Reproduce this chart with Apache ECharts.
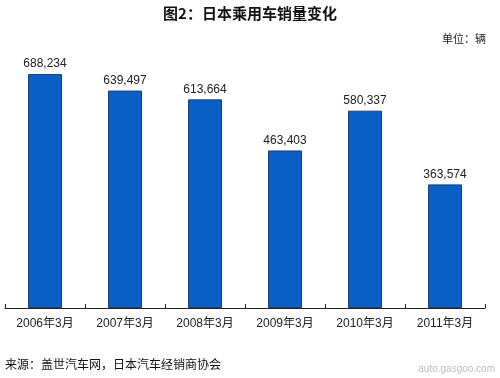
<!DOCTYPE html>
<html><head><meta charset="utf-8">
<script src="https://cdn.jsdelivr.net/npm/echarts@6/dist/echarts.min.js"></script>
<style>html,body{margin:0;padding:0;background:#fff}#c{width:500px;height:378px}</style>
</head><body><div id="c"></div>
<script>
var categories = ["2006年3月","2007年3月","2008年3月","2009年3月","2010年3月","2011年3月"];
var sales = [688234, 639497, 613664, 463403, 580337, 363574];
var titleText = "图2：日本乘用车销量变化";
var unitText = "单位：辆";
var sourceText = "来源：盖世汽车网，日本汽车经销商协会";
var font = "'Liberation Sans', Arial, 'Noto Sans CJK SC', sans-serif";
var chart = echarts.init(document.getElementById('c'));
chart.setOption({
  animation: false,
  backgroundColor: '#fff',
  grid: {left: 5, right: 15, top: 36, bottom: 70},
  xAxis: {
    type: 'category', data: categories,
    axisLine: {lineStyle: {color: '#222', width: 1}},
    axisTick: {show: true, length: 4, inside: true, lineStyle: {color: '#222'}},
    axisLabel: {color: '#222', fontSize: 12, fontFamily: font, margin: 10}
  },
  yAxis: {type: 'value', min: 0, max: 800000, show: false, splitLine: {show: false}},
  series: [{
    type: 'bar', data: sales, barWidth: 34,
    itemStyle: {color: '#0a5fc6', borderColor: '#1d3f73', borderWidth: 1},
    label: {show: true, position: 'top', distance: 4, color: '#222', fontSize: 12, fontFamily: font,
      formatter: function(p){ return p.value.toLocaleString('en-US'); }}
  }],
  graphic: [
    {type: 'text', left: 'center', top: 6, style: {text: titleText, font: "bold 15px 'Noto Sans CJK SC', sans-serif", fill: '#111'}},
    {type: 'text', right: 14, top: 33, style: {text: unitText, font: "11px 'Noto Sans CJK SC', sans-serif", fill: '#222'}},
    {type: 'text', left: 5, top: 358, style: {text: sourceText, font: "12px 'Noto Sans CJK SC', sans-serif", fill: '#111'}},
    {type: 'text', right: 5, top: 364, style: {text: 'auto.gasgoo.com', font: "10px 'Liberation Sans', sans-serif", fill: '#bbb'}}
  ]
});
</script></body></html>
